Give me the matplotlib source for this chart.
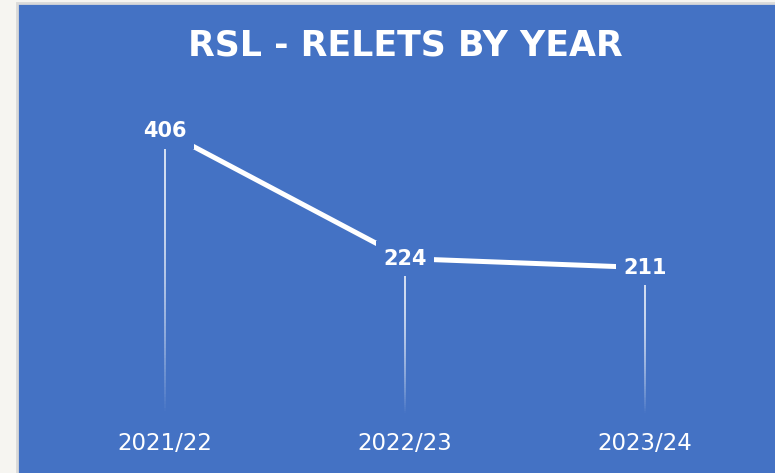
import numpy as np
import matplotlib.pyplot as plt
from matplotlib.collections import LineCollection
from matplotlib.patches import Rectangle

years = ['2021/22', '2022/23', '2023/24']
relets = [406, 224, 211]

blue = '#4472C4'
W, H = 775, 473

fig = plt.figure(figsize=(W / 100, H / 100), dpi=100)
fig.patch.set_facecolor('#F6F5F1')

# blue chart panel with thin grey frame, behind the plot axes
bg = fig.add_axes([0, 0, 1, 1], zorder=-1)
bg.set_axis_off()
bg.set_xlim(0, 1)
bg.set_ylim(0, 1)
bg.add_patch(Rectangle((17 / W, -0.01), 1.0, (H - 3) / H + 0.01,
                       facecolor=blue, edgecolor='#D9D9D9', linewidth=2))

ax = fig.add_axes([45 / W, 58 / H, 720 / W, 315 / H])
ax.set_facecolor('none')
ax.set_xlim(-0.5, 2.5)
ax.set_ylim(0, 451)
for s in ax.spines.values():
    s.set_visible(False)
ax.set_yticks([])
ax.set_xticks(range(len(years)))
ax.set_xticklabels(years, color='white', fontsize=16.5)
ax.tick_params(axis='x', length=0, pad=12)

x = np.arange(len(years))

# drop lines fading toward the baseline
for xi, v in zip(x, relets):
    n = 80
    ys = np.linspace(v, 0, n + 1)
    segs = [[(xi, ys[i]), (xi, ys[i + 1])] for i in range(n)]
    t = np.linspace(0, 1, n)
    alphas = 0.85 * (1 - t ** 2.2)
    cols = [(1, 1, 1, a) for a in alphas]
    ax.add_collection(LineCollection(segs, colors=cols, linewidths=1.3, zorder=1))

ax.plot(x, relets, color='white', linewidth=3.6, solid_capstyle='butt', zorder=2)

for xi, v in zip(x, relets):
    ax.text(xi, v, str(v), ha='center', va='center', color='white', fontsize=15,
            fontweight='bold', zorder=3,
            bbox=dict(facecolor=blue, edgecolor='none', boxstyle='square,pad=0.35'))

fig.text(405 / W, 1 - 45 / H, 'RSL - RELETS BY YEAR', ha='center', va='center',
         color='white', fontsize=25, fontweight='bold')

fig.savefig('out.png', dpi=100, facecolor=fig.get_facecolor())
